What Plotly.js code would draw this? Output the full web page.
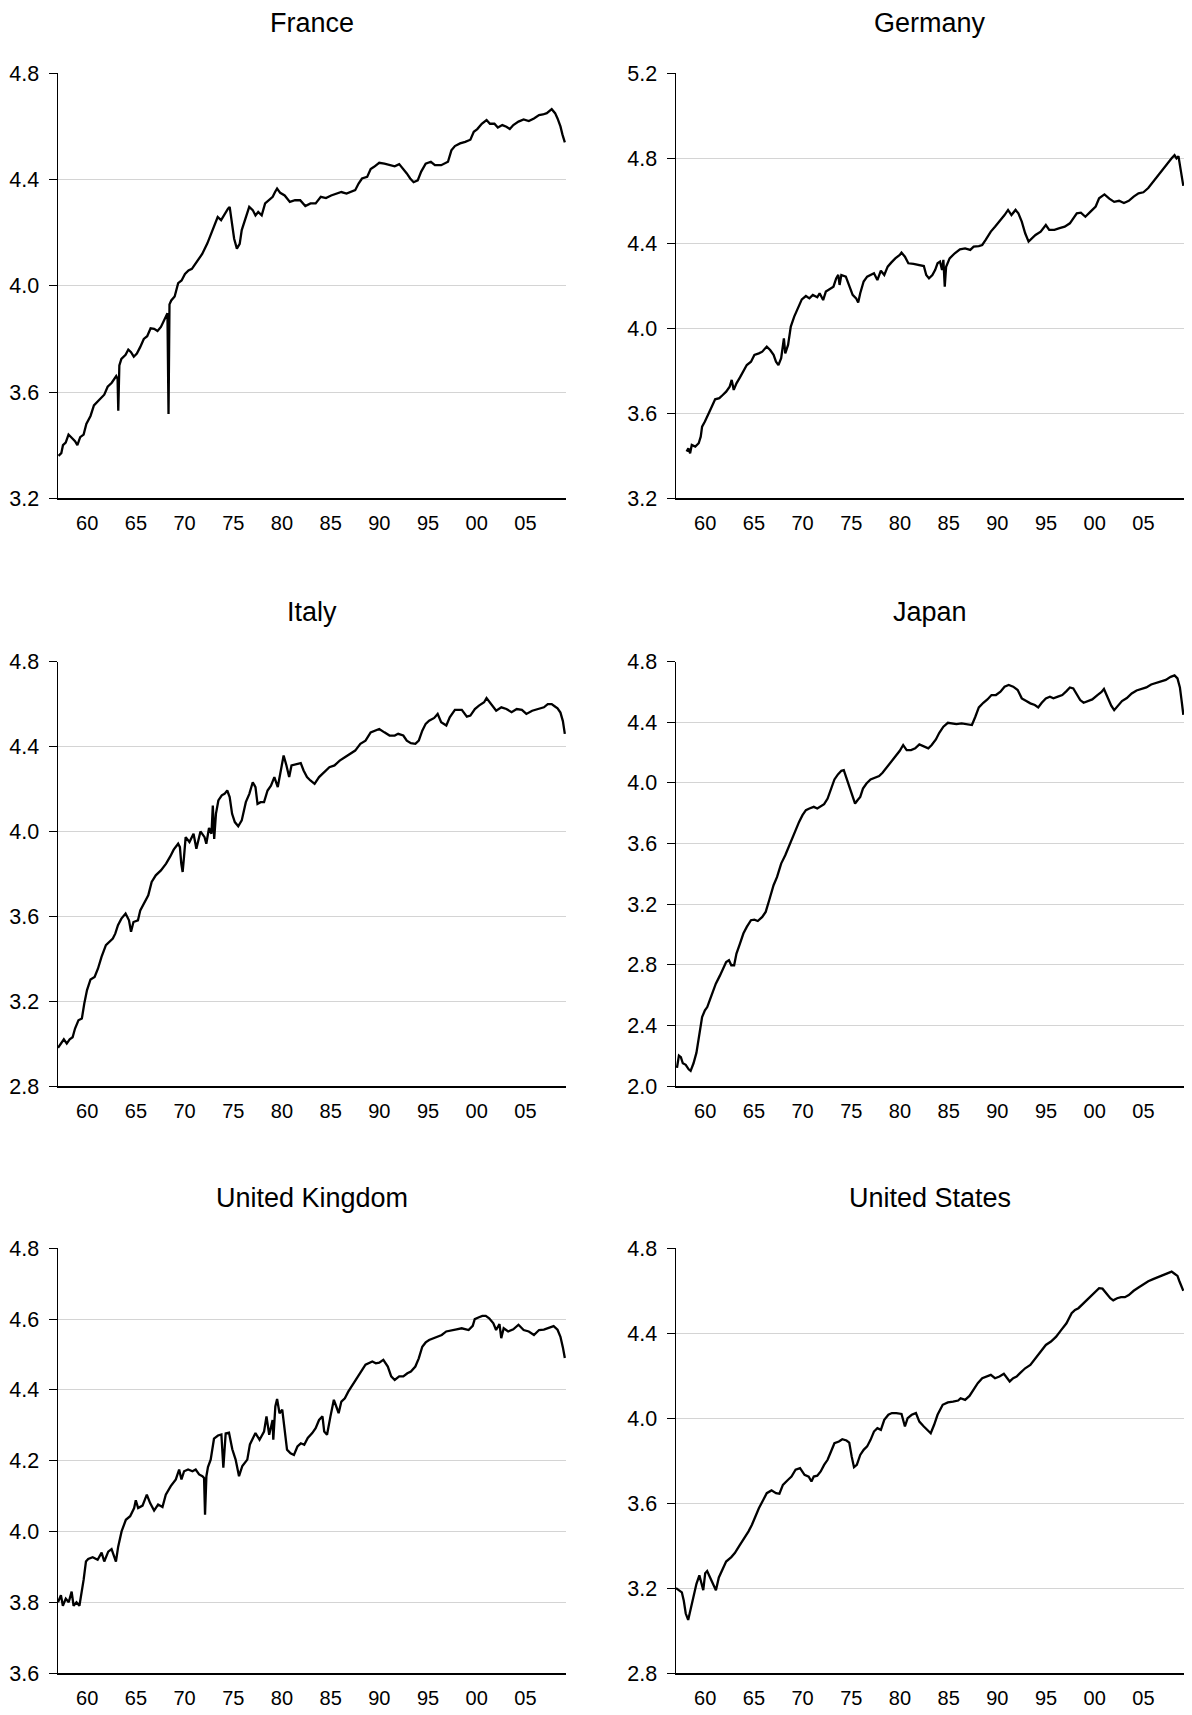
<!DOCTYPE html>
<html><head><meta charset="utf-8">
<script src="https://cdn.plot.ly/plotly-3.0.1.min.js"></script>
<style>body{margin:0;background:#fff}#chart{width:1192px;height:1715px}</style>
</head><body><div id="chart"></div>
<script>
const xTickYears = [1960,1965,1970,1975,1980,1985,1990,1995,2000,2005];
const xTickText = ['60','65','70','75','80','85','90','95','00','05'];

const franceYears = [1957.05,1957.34,1957.51,1957.79,1958.08,1958.39,1958.75,1958.99,1959.28,1959.63,1959.91,1960.34,1960.69,1961.22,1961.75,1962.10,1962.52,1962.98,1963.12,1963.19,1963.30,1963.51,1963.94,1964.22,1964.50,1964.78,1965.10,1965.45,1965.81,1966.16,1966.51,1966.87,1967.22,1967.57,1967.92,1968.24,1968.35,1968.45,1968.63,1968.98,1969.34,1969.69,1970.04,1970.40,1970.75,1971.28,1971.81,1972.34,1972.76,1973.12,1973.40,1973.75,1974.10,1974.46,1974.63,1974.88,1975.09,1975.37,1975.66,1975.87,1976.22,1976.64,1977.00,1977.28,1977.56,1977.92,1978.27,1978.69,1979.05,1979.29,1979.50,1979.82,1980.28,1980.81,1981.34,1981.87,1982.40,1982.93,1983.46,1983.99,1984.52,1985.05,1985.58,1986.10,1986.63,1987.16,1987.52,1987.87,1988.22,1988.75,1989.11,1989.46,1989.99,1990.52,1991.05,1991.58,1992.04,1992.46,1992.82,1993.17,1993.52,1993.94,1994.30,1994.76,1995.29,1995.71,1996.35,1997.05,1997.40,1997.76,1998.29,1998.82,1999.35,1999.70,2000.06,2000.52,2001.01,2001.36,2001.82,2002.17,2002.63,2003.05,2003.40,2003.76,2004.29,2004.82,2005.35,2005.88,2006.40,2006.8,2007.2,2007.7,2008.05,2008.3,2008.6,2008.8,2009.05];
const franceValues = [3.36,3.37,3.40,3.41,3.44,3.43,3.415,3.40,3.43,3.44,3.48,3.51,3.55,3.57,3.59,3.62,3.635,3.66,3.65,3.53,3.70,3.725,3.74,3.76,3.75,3.733,3.745,3.77,3.80,3.81,3.84,3.838,3.83,3.845,3.87,3.897,3.517,3.93,3.945,3.96,4.01,4.02,4.045,4.058,4.064,4.09,4.12,4.16,4.20,4.228,4.259,4.247,4.27,4.29,4.297,4.22,4.177,4.14,4.158,4.21,4.247,4.297,4.285,4.265,4.278,4.265,4.31,4.322,4.335,4.353,4.366,4.35,4.34,4.316,4.322,4.322,4.30,4.31,4.31,4.335,4.33,4.34,4.347,4.353,4.347,4.353,4.36,4.385,4.404,4.41,4.44,4.448,4.463,4.46,4.454,4.45,4.458,4.44,4.423,4.404,4.39,4.397,4.43,4.46,4.467,4.454,4.454,4.467,4.51,4.526,4.536,4.542,4.55,4.58,4.59,4.61,4.624,4.61,4.61,4.596,4.605,4.599,4.59,4.605,4.618,4.626,4.62,4.63,4.643,4.645,4.65,4.665,4.65,4.63,4.60,4.57,4.54];

const germanyYears = [1958.09,1958.27,1958.45,1958.62,1958.98,1959.33,1959.54,1959.68,1959.97,1960.32,1960.67,1961.02,1961.45,1961.80,1962.15,1962.51,1962.72,1962.93,1963.21,1963.57,1963.92,1964.27,1964.70,1965.05,1965.51,1965.86,1966.32,1966.67,1967.02,1967.27,1967.52,1967.80,1968.08,1968.22,1968.51,1968.79,1969.14,1969.57,1969.92,1970.34,1970.70,1971.05,1971.51,1971.75,1972.11,1972.39,1972.81,1973.17,1973.45,1973.66,1973.80,1973.98,1974.44,1974.79,1975.14,1975.50,1975.71,1975.92,1976.27,1976.63,1976.98,1977.33,1977.68,1978.04,1978.39,1978.74,1979.10,1979.52,1979.98,1980.16,1980.51,1980.86,1981.39,1981.92,1982.45,1982.70,1982.98,1983.33,1983.62,1983.86,1984.11,1984.32,1984.46,1984.60,1984.74,1985.10,1985.63,1986.16,1986.69,1987.22,1987.57,1988.10,1988.45,1988.80,1989.33,1989.76,1990.22,1990.74,1991.10,1991.45,1991.87,1992.16,1992.51,1992.86,1993.21,1993.57,1993.92,1994.45,1994.98,1995.33,1995.86,1996.39,1996.92,1997.45,1997.80,1998.16,1998.58,1999.04,1999.57,2000.10,2000.45,2001.0,2001.5,2002.0,2002.5,2003.0,2003.5,2004.0,2004.5,2005.0,2005.5,2006.0,2006.5,2007.0,2007.5,2007.9,2008.2,2008.4,2008.6,2008.8,2009.1];
const germanyValues = [3.42,3.435,3.412,3.451,3.443,3.459,3.49,3.537,3.561,3.60,3.631,3.666,3.671,3.686,3.702,3.725,3.757,3.71,3.741,3.769,3.796,3.827,3.843,3.875,3.882,3.89,3.914,3.898,3.875,3.843,3.827,3.859,3.953,3.882,3.922,4.008,4.055,4.102,4.136,4.152,4.141,4.157,4.146,4.165,4.133,4.173,4.184,4.196,4.235,4.251,4.204,4.251,4.243,4.196,4.157,4.141,4.121,4.165,4.22,4.243,4.251,4.259,4.227,4.271,4.251,4.29,4.309,4.329,4.345,4.356,4.337,4.306,4.303,4.298,4.293,4.251,4.235,4.251,4.275,4.306,4.314,4.275,4.322,4.196,4.29,4.329,4.353,4.372,4.376,4.369,4.384,4.387,4.392,4.416,4.455,4.478,4.502,4.533,4.557,4.533,4.557,4.541,4.502,4.447,4.408,4.424,4.439,4.455,4.486,4.463,4.463,4.471,4.478,4.494,4.518,4.541,4.544,4.525,4.549,4.573,4.612,4.63,4.61,4.595,4.60,4.59,4.60,4.62,4.635,4.64,4.66,4.69,4.72,4.75,4.78,4.80,4.815,4.80,4.81,4.76,4.67];

const italyYears = [1957.0,1957.3,1957.6,1957.9,1958.2,1958.5,1958.75,1959.10,1959.45,1959.70,1959.98,1960.34,1960.76,1961.11,1961.47,1961.92,1962.28,1962.63,1962.88,1963.16,1963.51,1963.94,1964.29,1964.50,1964.75,1965.21,1965.45,1965.91,1966.27,1966.62,1967.04,1967.57,1968.10,1968.53,1968.88,1969.34,1969.52,1969.66,1969.80,1969.94,1970.11,1970.50,1970.92,1971.21,1971.63,1972.05,1972.23,1972.51,1972.76,1972.90,1973.04,1973.22,1973.47,1973.82,1974.10,1974.38,1974.63,1974.88,1975.16,1975.51,1975.87,1976.29,1976.65,1977.00,1977.28,1977.49,1977.81,1978.16,1978.52,1978.87,1979.22,1979.57,1979.82,1980.17,1980.46,1980.74,1980.98,1981.44,1981.93,1982.22,1982.57,1982.92,1983.35,1983.81,1984.34,1984.87,1985.40,1985.93,1986.46,1986.99,1987.52,1988.05,1988.58,1989.11,1989.64,1989.99,1990.52,1991.05,1991.58,1991.93,1992.46,1992.82,1993.24,1993.70,1994.05,1994.41,1994.76,1995.11,1995.64,1995.99,1996.35,1996.88,1997.23,1997.76,1998.47,1998.99,1999.35,1999.81,2000.23,2000.76,2001.01,2001.47,2002.00,2002.53,2003.05,2003.58,2004.11,2004.64,2005.10,2005.70,2006.40,2006.9,2007.3,2007.7,2008.0,2008.3,2008.6,2008.85,2009.05];
const italyValues = [2.98,3.00,3.02,3.00,3.02,3.03,3.071,3.11,3.118,3.189,3.252,3.302,3.314,3.354,3.409,3.464,3.479,3.495,3.518,3.558,3.589,3.613,3.581,3.527,3.573,3.581,3.628,3.667,3.699,3.762,3.793,3.816,3.848,3.882,3.914,3.942,3.926,3.848,3.809,3.879,3.973,3.95,3.989,3.918,4.0,3.973,3.942,4.016,3.989,4.122,3.965,4.083,4.146,4.17,4.177,4.193,4.162,4.083,4.044,4.024,4.052,4.138,4.177,4.232,4.209,4.13,4.138,4.138,4.193,4.216,4.256,4.209,4.279,4.358,4.311,4.256,4.311,4.318,4.322,4.287,4.256,4.24,4.224,4.256,4.279,4.303,4.311,4.334,4.35,4.365,4.381,4.413,4.428,4.467,4.475,4.483,4.467,4.452,4.452,4.46,4.452,4.428,4.416,4.413,4.428,4.475,4.507,4.522,4.535,4.554,4.515,4.499,4.538,4.573,4.573,4.541,4.546,4.577,4.593,4.609,4.629,4.601,4.569,4.585,4.577,4.562,4.577,4.573,4.554,4.569,4.577,4.585,4.60,4.60,4.59,4.58,4.56,4.52,4.46];

const japanYears = [1957.1,1957.3,1957.5,1957.7,1958.0,1958.3,1958.5,1958.8,1959.1,1959.44,1959.68,1959.97,1960.21,1960.46,1960.74,1961.09,1961.52,1961.87,1962.15,1962.44,1962.68,1962.97,1963.21,1963.57,1963.92,1964.27,1964.70,1965.05,1965.40,1965.86,1966.21,1966.57,1967.02,1967.38,1967.80,1968.22,1968.58,1968.93,1969.28,1969.64,1969.99,1970.34,1970.70,1971.15,1971.51,1971.86,1972.21,1972.57,1972.92,1973.27,1973.63,1973.98,1974.23,1974.51,1974.86,1975.14,1975.39,1975.64,1975.92,1976.20,1976.56,1976.98,1977.40,1977.86,1978.21,1978.67,1979.10,1979.52,1979.98,1980.33,1980.69,1981.14,1981.57,1981.99,1982.45,1982.91,1983.26,1983.69,1984.04,1984.46,1984.92,1985.38,1985.80,1986.33,1986.86,1987.39,1987.74,1988.10,1988.56,1988.98,1989.40,1989.86,1990.32,1990.74,1991.17,1991.63,1992.09,1992.51,1992.93,1993.39,1993.85,1994.20,1994.56,1994.98,1995.40,1995.76,1996.22,1996.67,1997.10,1997.45,1997.80,1998.16,1998.51,1998.86,1999.22,1999.75,2000.28,2000.7,2000.95,2001.3,2001.7,2002.0,2002.4,2002.8,2003.3,2003.8,2004.3,2004.8,2005.3,2005.8,2006.3,2006.8,2007.3,2007.8,2008.2,2008.5,2008.75,2008.95,2009.1];
const japanValues = [2.12,2.20,2.19,2.15,2.14,2.11,2.10,2.15,2.22,2.378,2.455,2.499,2.521,2.565,2.62,2.675,2.73,2.785,2.818,2.83,2.797,2.797,2.874,2.94,3.006,3.05,3.094,3.098,3.089,3.116,3.149,3.226,3.325,3.38,3.468,3.523,3.578,3.644,3.688,3.743,3.787,3.82,3.831,3.842,3.831,3.847,3.86,3.897,3.957,4.023,4.056,4.08,4.084,4.029,3.963,3.908,3.864,3.886,3.908,3.963,3.996,4.023,4.036,4.045,4.067,4.106,4.139,4.172,4.212,4.25,4.217,4.217,4.228,4.254,4.239,4.228,4.25,4.287,4.331,4.371,4.397,4.393,4.388,4.393,4.388,4.382,4.437,4.498,4.529,4.551,4.58,4.58,4.602,4.635,4.646,4.635,4.613,4.558,4.542,4.525,4.514,4.498,4.529,4.558,4.569,4.558,4.569,4.58,4.606,4.63,4.624,4.58,4.547,4.529,4.536,4.551,4.58,4.60,4.62,4.57,4.51,4.48,4.51,4.54,4.56,4.59,4.61,4.62,4.63,4.65,4.66,4.67,4.68,4.70,4.71,4.69,4.63,4.53,4.45];

const ukYears = [1957.0,1957.3,1957.5,1957.8,1958.1,1958.4,1958.6,1958.9,1959.2,1959.4,1959.63,1959.87,1960.1,1960.56,1961.07,1961.48,1961.75,1962.16,1962.5,1962.95,1963.18,1963.53,1963.97,1964.41,1964.82,1964.99,1965.23,1965.68,1966.12,1966.46,1966.87,1967.28,1967.73,1968.07,1968.58,1969.1,1969.44,1969.68,1969.95,1970.36,1970.81,1971.14,1971.49,1971.83,1972.0,1972.1,1972.24,1972.4,1972.68,1973.02,1973.43,1973.78,1973.98,1974.22,1974.56,1974.9,1975.24,1975.59,1975.93,1976.44,1976.71,1977.28,1977.70,1978.16,1978.41,1978.69,1979.04,1979.11,1979.32,1979.50,1979.75,1980.03,1980.28,1980.52,1980.88,1981.23,1981.59,1981.94,1982.29,1982.65,1983.11,1983.46,1983.81,1984.16,1984.34,1984.63,1984.98,1985.33,1985.58,1985.82,1986.10,1986.46,1986.81,1987.16,1987.52,1987.87,1988.22,1988.58,1988.86,1989.28,1989.64,1989.99,1990.41,1990.87,1991.22,1991.58,1992.04,1992.46,1992.88,1993.24,1993.70,1994.05,1994.41,1994.76,1995.11,1995.57,1995.99,1996.41,1996.87,1997.40,1997.93,1998.46,1999.17,1999.59,1999.80,2000.23,2000.58,2000.93,2001.28,2001.71,2001.99,2002.34,2002.52,2002.77,2003.23,2003.76,2004.29,2004.82,2005.35,2005.88,2006.40,2006.9,2007.4,2007.9,2008.3,2008.6,2008.85,2009.05];
const ukValues = [3.80,3.82,3.79,3.81,3.80,3.83,3.79,3.80,3.79,3.82,3.863,3.915,3.922,3.927,3.92,3.94,3.915,3.943,3.95,3.915,3.957,4.0,4.033,4.043,4.066,4.088,4.066,4.073,4.104,4.08,4.059,4.076,4.069,4.104,4.128,4.147,4.175,4.147,4.17,4.175,4.17,4.175,4.161,4.156,4.151,4.047,4.156,4.182,4.203,4.262,4.271,4.274,4.18,4.277,4.279,4.232,4.203,4.156,4.185,4.203,4.246,4.278,4.259,4.282,4.325,4.273,4.315,4.259,4.353,4.374,4.334,4.344,4.287,4.231,4.221,4.216,4.24,4.249,4.245,4.264,4.278,4.292,4.315,4.325,4.282,4.273,4.325,4.372,4.353,4.334,4.367,4.376,4.395,4.411,4.428,4.442,4.456,4.471,4.475,4.48,4.475,4.477,4.485,4.466,4.438,4.428,4.438,4.438,4.447,4.452,4.466,4.489,4.522,4.534,4.541,4.546,4.551,4.555,4.565,4.569,4.571,4.574,4.569,4.581,4.60,4.605,4.609,4.609,4.602,4.588,4.569,4.586,4.546,4.574,4.565,4.571,4.584,4.569,4.565,4.555,4.569,4.57,4.575,4.58,4.57,4.55,4.52,4.49];

const usYears = [1957.0,1957.3,1957.6,1957.8,1958.0,1958.25,1958.5,1958.8,1959.1,1959.4,1959.6,1959.8,1960.0,1960.2,1960.5,1960.8,1961.1,1961.4,1961.80,1962.15,1962.68,1963.04,1963.50,1963.92,1964.45,1964.80,1965.15,1965.51,1965.97,1966.32,1966.81,1967.27,1967.62,1967.98,1968.51,1968.86,1969.28,1969.74,1970.20,1970.63,1970.91,1971.15,1971.51,1971.86,1972.21,1972.57,1972.92,1973.27,1973.73,1974.08,1974.51,1974.79,1975.04,1975.28,1975.57,1975.92,1976.27,1976.63,1976.98,1977.33,1977.68,1978.04,1978.39,1978.81,1979.17,1979.63,1980.16,1980.51,1980.79,1981.21,1981.64,1981.99,1982.45,1982.91,1983.16,1983.51,1983.86,1984.39,1984.92,1985.45,1985.98,1986.23,1986.69,1987.14,1987.57,1987.99,1988.45,1988.91,1989.33,1989.76,1990.22,1990.67,1990.92,1991.27,1991.63,1991.98,1992.33,1992.86,1993.39,1993.92,1994.45,1994.98,1995.51,1996.04,1996.57,1997.10,1997.63,1997.98,1998.33,1998.86,1999.57,2000.45,2000.8,2001.2,2001.6,2001.9,2002.3,2002.7,2003.1,2003.5,2004.0,2004.5,2005.0,2005.5,2006.0,2006.5,2007.0,2007.5,2007.9,2008.2,2008.5,2008.7,2008.9,2009.1];
const usValues = [3.20,3.19,3.18,3.14,3.08,3.05,3.10,3.16,3.22,3.26,3.22,3.19,3.27,3.28,3.25,3.22,3.19,3.25,3.294,3.325,3.346,3.365,3.399,3.427,3.467,3.498,3.537,3.576,3.616,3.647,3.66,3.647,3.644,3.686,3.71,3.725,3.757,3.765,3.733,3.725,3.702,3.725,3.729,3.749,3.78,3.804,3.843,3.882,3.89,3.901,3.895,3.885,3.82,3.769,3.78,3.827,3.851,3.867,3.898,3.937,3.953,3.945,3.992,4.016,4.024,4.024,4.02,3.961,4.0,4.016,4.024,3.984,3.961,3.937,3.929,3.969,4.016,4.063,4.074,4.078,4.083,4.094,4.086,4.105,4.133,4.165,4.188,4.196,4.204,4.188,4.196,4.209,4.196,4.173,4.188,4.196,4.212,4.235,4.251,4.282,4.314,4.345,4.361,4.384,4.416,4.447,4.494,4.51,4.518,4.541,4.573,4.612,4.61,4.585,4.565,4.555,4.565,4.57,4.57,4.58,4.60,4.615,4.63,4.645,4.655,4.665,4.675,4.685,4.69,4.68,4.67,4.645,4.62,4.60];

const panels = [
  {name:'France', x:franceYears, y:franceValues, range:[3.2,4.8], dtick:0.4},
  {name:'Germany', x:germanyYears, y:germanyValues, range:[3.2,5.2], dtick:0.4},
  {name:'Italy', x:italyYears, y:italyValues, range:[2.8,4.8], dtick:0.4},
  {name:'Japan', x:japanYears, y:japanValues, range:[2.0,4.8], dtick:0.4},
  {name:'United Kingdom', x:ukYears, y:ukValues, range:[3.6,4.8], dtick:0.2},
  {name:'United States', x:usYears, y:usValues, range:[2.8,4.8], dtick:0.4}
];

const W = 1192, H = 1715;
const colPx = [[58,566],[676,1184]];
const rowPx = [[73.3,498.3],[661.7,1086],[1248.3,1673]];
const xRange = [1957.0, 2009.17];

const data = [];
const layout = {
  width: W, height: H,
  margin: {l:0, r:0, t:0, b:0},
  paper_bgcolor: '#fff', plot_bgcolor: '#fff',
  showlegend: false,
  font: {family: '"Liberation Sans", Arial, sans-serif', color: '#000', size: 20},
  annotations: []
};

panels.forEach((p, i) => {
  const col = i % 2, row = Math.floor(i / 2);
  const n = i === 0 ? '' : String(i + 1);
  const xd = [colPx[col][0] / W, colPx[col][1] / W];
  const yd = [1 - rowPx[row][1] / H, 1 - rowPx[row][0] / H];
  data.push({
    type: 'scatter', mode: 'lines', x: p.x, y: p.y,
    xaxis: 'x' + n, yaxis: 'y' + n,
    line: {color: '#000', width: 2.3}, hoverinfo: 'skip'
  });
  layout['xaxis' + n] = {
    domain: xd, anchor: 'y' + n, range: xRange,
    tickmode: 'array', tickvals: xTickYears, ticktext: xTickText,
    showgrid: false, zeroline: false,
    showline: true, linecolor: '#000', linewidth: 1.5,
    ticks: 'outside', ticklen: 6, tickcolor: 'rgba(0,0,0,0)',
    tickfont: {size: 20, color: '#000'}, fixedrange: true
  };
  const tv = [];
  for (let v = p.range[0]; v <= p.range[1] + 1e-9; v += p.dtick) tv.push(Math.round(v * 10) / 10);
  layout['yaxis' + n] = {
    domain: yd, anchor: 'x' + n, range: p.range,
    tickmode: 'array', tickvals: tv, ticktext: tv.map(v => v.toFixed(1)),
    showgrid: true, gridcolor: '#d4d4d4', gridwidth: 1,
    zeroline: false, showline: true, linecolor: '#000', linewidth: 1.5,
    ticks: 'outside', ticklen: 8, tickcolor: '#000', tickwidth: 1,
    ticklabelstandoff: 5,
    tickfont: {size: 21.5, color: '#000'}, fixedrange: true
  };
  layout.annotations.push({
    text: p.name, xref: 'paper', yref: 'paper',
    x: (xd[0] + xd[1]) / 2, y: 1 - (rowPx[row][0] - 50) / H,
    xanchor: 'center', yanchor: 'middle', showarrow: false,
    font: {size: 27, color: '#000'}
  });
});

Plotly.newPlot('chart', data, layout, {staticPlot: true});
</script>
</body></html>
